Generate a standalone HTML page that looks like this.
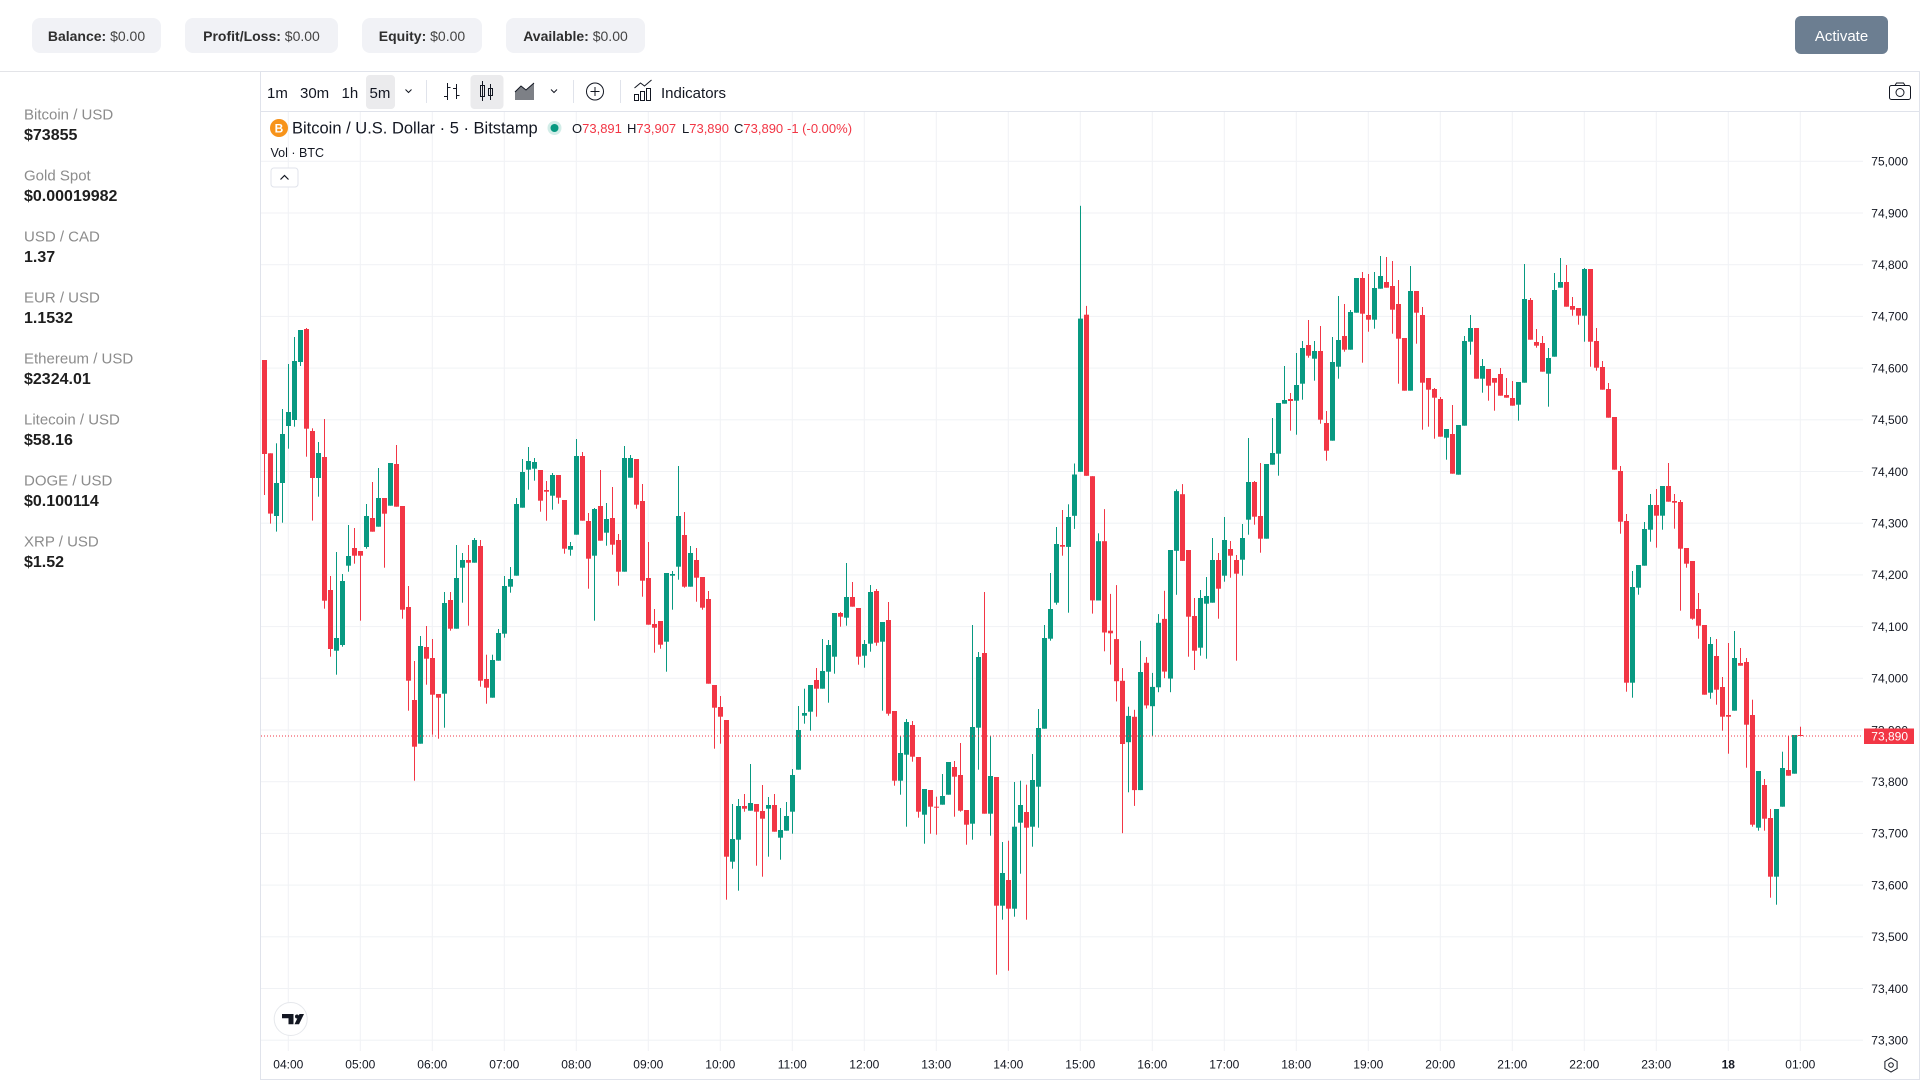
<!DOCTYPE html>
<html><head><meta charset="utf-8">
<style>
html,body{margin:0;padding:0;width:1920px;height:1080px;overflow:hidden;background:#fff;font-family:"Liberation Sans",sans-serif;}
.pill{position:absolute;top:18px;height:35px;background:#f1f2f6;border-radius:8px;font-size:14px;color:#444;line-height:37px;text-align:center;white-space:nowrap;}
.pill b{color:#2f2f2f}
.btn{position:absolute;left:1795px;top:16px;width:93px;height:38px;border-radius:6px;background:#6c7e91;color:#fff;font-size:15px;line-height:42px;text-align:center;}
svg{position:absolute;left:0;top:0;}
</style></head><body>
<div class="pill" style="left:32px;width:129px"><b>Balance:</b> $0.00</div>
<div class="pill" style="left:185px;width:153px"><b>Profit/Loss:</b> $0.00</div>
<div class="pill" style="left:362px;width:120px"><b>Equity:</b> $0.00</div>
<div class="pill" style="left:506px;width:139px"><b>Available:</b> $0.00</div>
<div class="btn">Activate</div>
<svg width="1920" height="1080" viewBox="0 0 1920 1080" font-family="Liberation Sans, sans-serif">
<rect x="0" y="71" width="1920" height="1" fill="#e3e4e8"/>
<!-- sidebar -->
<g font-size="15" fill="#8c8c8c">
<text x="24" y="119.5">Bitcoin / USD</text>
<text x="24" y="180.5">Gold Spot</text>
<text x="24" y="241.5">USD / CAD</text>
<text x="24" y="302.5">EUR / USD</text>
<text x="24" y="363.5">Ethereum / USD</text>
<text x="24" y="424.5">Litecoin / USD</text>
<text x="24" y="485.5">DOGE / USD</text>
<text x="24" y="546.5">XRP / USD</text>
</g>
<g font-size="16" font-weight="bold" fill="#1e1e1e">
<text x="24" y="140">$73855</text>
<text x="24" y="201">$0.00019982</text>
<text x="24" y="262">1.37</text>
<text x="24" y="323">1.1532</text>
<text x="24" y="384">$2324.01</text>
<text x="24" y="445">$58.16</text>
<text x="24" y="506">$0.100114</text>
<text x="24" y="567">$1.52</text>
</g>
<!-- panel -->
<rect x="260.5" y="71.5" width="1659" height="1008" fill="#fff" stroke="#e0e3eb"/>
<rect x="261" y="111" width="1658" height="1" fill="#e0e3eb"/>
<g id="grid"></g>
<!-- toolbar -->
<rect x="366" y="75" width="29" height="34" rx="4" fill="#ebebed"/>
<rect x="470.5" y="75" width="33" height="34" rx="4" fill="#ebebed"/>
<g font-size="15" fill="#131722">
<text x="267" y="98">1m</text>
<text x="300" y="98">30m</text>
<text x="341.5" y="98">1h</text>
<text x="369.5" y="98">5m</text>
<text x="661" y="98">Indicators</text>
</g>
<g stroke="#131722" fill="none" stroke-width="1">
<path d="M405.5 89.5l3 3 3-3"/>
<path d="M551 89.5l3 3 3-3"/>
<path d="M447.5 83v17M444 96.5h3.5M447.5 87.5h3M456.5 84v15M453 88.5h3.5M456.5 95.5h3"/>
<path d="M482.5 81v20M490.5 84v16"/>
<rect x="480.5" y="85.5" width="4" height="11"/>
<rect x="488.5" y="88.5" width="4" height="7"/>
<path d="M515 92l6-6 5 4 8-7"/>
<circle cx="595" cy="91.5" r="8.5"/>
<path d="M595 87v9M590.5 91.5h9"/>
<path d="M634.5 88l6-5 4 3 7-6"/>
<rect x="634.5" y="94.5" width="4" height="6"/>
<rect x="640.5" y="91.5" width="4" height="9"/>
<rect x="646.5" y="88.5" width="4" height="12"/>
<rect x="1889.5" y="85.5" width="21" height="14" rx="2"/>
<path d="M1895 85.5l1.5-2.5h7l1.5 2.5"/>
<circle cx="1900" cy="92.5" r="4"/>
<path d="M1891 1058l6.1 3.5v7l-6.1 3.5-6.1-3.5v-7z"/>
<circle cx="1891" cy="1065" r="2.3"/>
</g>
<path d="M515 100V92l6-6 5 4 8-7v17z" fill="#131722" opacity="0.55"/>
<g fill="#e0e3eb"><rect x="426" y="80" width="1" height="23"/><rect x="573" y="80" width="1" height="23"/><rect x="620" y="80" width="1" height="23"/></g>
<!-- legend -->
<circle cx="279" cy="128" r="9" fill="#f7931a"/>
<text x="279" y="132.5" font-size="12" font-weight="bold" fill="#fff" text-anchor="middle">B</text>
<text x="292" y="133.5" font-size="16.5" fill="#131722">Bitcoin / U.S. Dollar · 5 · Bitstamp</text>
<circle cx="554.5" cy="128" r="7" fill="#089981" opacity="0.18"/>
<circle cx="554.5" cy="128" r="4" fill="#089981"/>
<g font-size="13">
<text x="572" y="133" fill="#131722">O<tspan fill="#f23645">73,891</tspan></text>
<text x="627" y="133" fill="#131722">H<tspan fill="#f23645">73,907</tspan></text>
<text x="682" y="133" fill="#131722">L<tspan fill="#f23645">73,890</tspan></text>
<text x="734" y="133" fill="#131722">C<tspan fill="#f23645">73,890</tspan></text>
<text x="787" y="133" fill="#f23645">-1 (-0.00%)</text>
</g>
<text x="270.5" y="157" font-size="12.5" fill="#131722">Vol · BTC</text>
<rect x="271" y="168" width="27" height="19" rx="3" fill="#fff" stroke="#e0e3eb"/>
<path d="M280.5 179.5l4-4 4 4" fill="none" stroke="#131722" stroke-width="1.2"/>
<g id="candles"></g>
<line x1="261" y1="736" x2="1863" y2="736" stroke="#f23645" stroke-width="1" stroke-dasharray="1,2"/>
<g id="axis" font-size="12" fill="#131722"></g>
<rect x="1864" y="728.5" width="50" height="15.5" fill="#f23645"/>
<text x="1908" y="740.5" font-size="12" fill="#fff" text-anchor="end">73,890</text>
<!-- TV logo -->
<circle cx="290.7" cy="1019" r="16.5" fill="#fff" stroke="#e6e8ec"/>
<path d="M282 1014h11.5v10.3h-5v-6h-6.5z" fill="#131722"/>
<circle cx="297" cy="1016.5" r="2" fill="#131722"/>
<path d="M299.5 1014h4.5l-5 10.3h-4.5z" fill="#131722"/>
</svg>
<script>
(function(){
var grid='',ax='';
for(var k=0;k<18;k++){var y=161.3+51.7*k;grid+='<rect x="261" y="'+(y-0.5).toFixed(1)+'" width="1602" height="1" fill="#f0f2f5"/>';
var p=75000-100*k;var s=String(p).replace(/(\d\d)(\d{3})$/,'$1,$2');
ax+='<text x="1908" y="'+(y+4.3).toFixed(1)+'" text-anchor="end">'+s+'</text>';}
var tl=[];for(var h=4;h<=23;h++)tl.push((h<10?'0':'')+h+':00');tl.push('18');tl.push('01:00');
for(var k=0;k<22;k++){var x=288.3+72*k;grid+='<rect x="'+(x-0.5).toFixed(1)+'" y="112" width="1" height="939" fill="#f0f2f5"/>';
ax+='<text x="'+x.toFixed(1)+'" y="1068.5" text-anchor="middle"'+(tl[k]=='18'?' font-weight="bold"':'')+'>'+tl[k]+'</text>';}
document.getElementById('grid').innerHTML=grid;
document.getElementById('axis').innerHTML=ax;
var segs=[
[0,310,3,"r150,432,150,555 r430,611,430,641 g519,618,400,665 g372,519,297,638 g306,348,162,416 g153,330,81,350 g60,156,60,168 r57,356,54,440 r363,504,355,632 g429,504,396,560 r441,872,327,896 r840,1017,798,1040 g984,1022,726,1094 g813,1005,792,1010 g738,767,645,785 r714,737,654,761 r723,737,723,932 g618,711,582,716 r624,665,516,665 g564,650,474,650 r564,611,564,773 g459,587,459,587 r462,590,405,590 r588,899,588,926 r891,1112,828,1202 r1170,1310,1053,1412 g1008,1301,978,1301 r1011,1046,948,1124 r1044,1154,987,1274 r1152,1163,1152,1286 g879,1151,846,1253 r870,956,846,962 g804,956,705,956 g750,773,729,878 r750,758,705,947 g690,758,684,758 r708,1112,690,1130 r1107,1133,1034,1181 g1050,1163,1034,1163 g969,1052,957,1052 g828,971,798,983 g807,830,771,848 g582,797,564,797 g486,593,447,593 g453,479,411,539 g456,476,444,512"],
[46,430,3,"r120,212,120,245 r180,185,153,272 g135,197,129,239 r135,203,135,221 r210,356,210,371 g348,359,336,377 g78,314,27,314 r78,272,66,272 r273,386,249,476 g237,377,234,572 r228,332,120,332 g267,308,219,347 r264,344,171,374 r330,425,312,467 g84,425,48,425 g84,143,75,143 r87,224,87,236 r213,452,162,500 r444,584,336,584 r582,593,537,668 r573,644,573,656 g429,635,429,725 g432,437,423,539 g258,410,108,449 r315,470,246,473 g369,470,348,470 r390,443,354,515 r441,533,441,539 r507,761,483,761 r765,833,765,956 r831,860,798,941 r870,1280,870,1409 g1227,1295,1122,1316 g1128,1229,1107,1382 r1128,1136,1092,1145 g1119,1142,1002,1142 r1122,1145,1122,1307 r1143,1166,1065,1340 g1125,1136,1101,1280 r1125,1205,1092,1205 g1200,1223,1134,1289 g1158,1202,1116,1202 g1035,1145,1017,1211 g900,1019,828,1019 g849,857,776,881 g765,845,765,902"],
[92,520,3,"r480,506,444,590 g453,506,357,506 g375,455,360,548 g279,410,279,461 r279,290,276,320 g231,293,129,317 r231,260,186,260 r264,410,264,434 g372,407,360,443 g216,371,195,395 r213,368,207,377 g306,365,306,572 r300,581,246,587 r573,782,573,797 g699,782,648,824 g606,704,597,920 r615,710,603,725 r711,875,711,893 g807,884,807,971 r810,860,810,941 r860,863,830,944 g828,854,762,854 g726,824,726,824 r741,770,723,890 r765,872,669,875 r870,914,870,974 g621,911,315,959 g411,623,396,749 r399,881,216,881 g768,881,648,947 r771,1157,771,1364 g1059,1157,966,1199 r1080,1166,962,1352 g920,1166,786,1190 g855,908,782,1061 r876,923,794,1199 g780,920,702,980 g624,800,567,923 g354,626,315,626 g267,356,159,362 g72,248,21,254 r75,80,-30,107"],
[134,190,2.278,"g745,813,716,963 g648,742,623,772 g293,642,36,642 r284,651,264,651 r652,935,652,965 g800,935,782,935 r800,1008,727,1051 r1004,1010,920,1081 r1023,1119,900,1165 r1118,1262,1089,1465 g1198,1258,1177,1372 r1200,1367,1184,1403 g1098,1367,1027,1367 r1077,1174,1064,1181 g1132,1176,1100,1243 g986,1133,966,1144 r977,1097,913,1112 g820,1113,820,1144 g686,822,682,922 r693,845,670,845"],
[154,190,3,"r1080,1280,1080,1400 r1278,1382,1224,1440 g1224,1373,1200,1397 g1218,1241,1161,1406 g1110,1238,1044,1238 r1110,1196,1089,1286 g1050,1157,981,1175 r1077,1097,1053,1163 r1110,1151,1095,1412 g1044,1109,1002,1157 g876,989,744,1034 r876,980,873,1004 r978,1046,819,1088 g822,1046,822,1046 g789,824,684,824 g639,791,639,857 g630,641,528,641 r627,633,609,722 g585,632,489,734 g474,581,453,629 r465,497,390,503 g483,506,453,572 r483,689,408,701 r699,782,663,812 g516,752,441,752 g450,530,318,566 r438,479,342,485 g366,479,360,479 g264,368,264,368 r264,371,246,518"],
[184,240,3,"r225,239,102,275 g144,239,96,266 g108,146,48,146 r126,143,51,143 r138,209,63,281 r192,296,120,431 r294,452,294,452 g153,452,78,452 r153,218,153,311 r225,428,201,569 r414,449,414,560 r447,473,444,596 r477,590,471,590 g567,593,567,659 r582,701,495,701 g555,704,555,704 g303,557,288,557 g264,305,225,344 r264,416,264,416 g378,416,357,458 r387,437,387,482 r414,428,414,512 r402,467,384,467 r465,473,414,473 r474,497,423,497 g426,494,426,542 g177,428,72,428 r180,299,174,299 r306,317,267,323 r309,395,288,395 g354,401,324,500 g150,350,99,350 g126,143,54,143 r126,200,75,200 r198,209,171,227 r204,227,204,254 g87,227,84,305 r87,305,87,380 r303,383,264,392 r381,449,363,449 r447,533,429,533 r531,689,531,689 r693,845,678,881 r843,1328,822,1355 g1041,1328,993,1373 g975,1043,975,1064"],
[230,440,3,"g267,377,246,377 g195,269,162,305 r195,227,147,323 g138,227,138,269 r138,185,69,185 r183,188,162,266 r186,326,180,512 r324,371,324,383 r363,536,363,539 r507,557,459,596 r555,764,555,764 g612,758,591,776 r648,749,597,794 r741,830,711,872 r825,830,609,941 g654,812,573,812 r669,677,624,677 r666,854,654,983 r825,1154,779,1160 g993,1163,993,1172 r1035,1136,1017,1172 r1134,1310,1107,1373 g1107,1310,1107,1394 g984,1100,935,1100 r990,1007,887,1007 g885,1001,885,1001 r885,888,860,888"]
];
var out='';
segs.forEach(function(sg){
 var st=sg[0],y0=sg[1],s=sg[2];
 sg[3].trim().split(/\s+/).forEach(function(t,j){
  var i=st+j,c=t[0]=='g'?'#089981':'#f23645';
  var v=t.slice(1).split(',').map(function(z){return y0+Number(z)/s;});
  var x=262+6*i;
  out+='<rect x="'+(x+2)+'" y="'+v[2].toFixed(1)+'" width="1" height="'+Math.max(1,v[3]-v[2]).toFixed(1)+'" fill="'+c+'"/>';
  out+='<rect x="'+x+'" y="'+v[0].toFixed(1)+'" width="5" height="'+Math.max(1,v[1]-v[0]).toFixed(1)+'" fill="'+c+'"/>';
 });
});
document.getElementById('candles').innerHTML=out;
})();
</script>
</body></html>
